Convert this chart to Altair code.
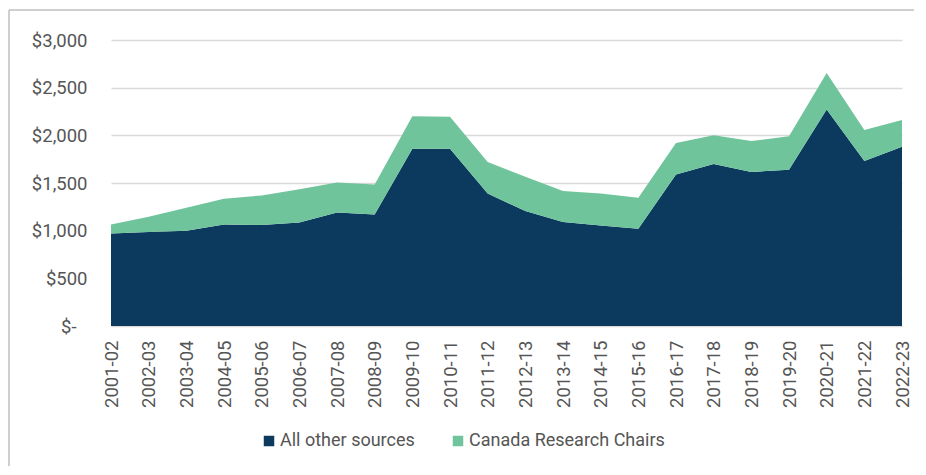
import altair as alt
import pandas as pd

years = ["2001-02", "2002-03", "2003-04", "2004-05", "2005-06", "2006-07", "2007-08",
         "2008-09", "2009-10", "2010-11", "2011-12", "2012-13", "2013-14", "2014-15",
         "2015-16", "2016-17", "2017-18", "2018-19", "2019-20", "2020-21", "2021-22",
         "2022-23"]
other_sources = [970, 985, 1000, 1065, 1060, 1085, 1190, 1170, 1860, 1860, 1390, 1205,
                 1090, 1055, 1020, 1590, 1700, 1615, 1640, 2270, 1730, 1880]
research_chairs = [95, 160, 240, 270, 310, 350, 315, 315, 340, 335, 330, 360,
                   325, 335, 325, 330, 300, 325, 350, 385, 325, 280]
series = ["All other sources", "Canada Research Chairs"]
colors = ["#0b3a5e", "#70c49b"]
y_ticks = [0, 500, 1000, 1500, 2000, 2500, 3000]

rows = []
for i, yr in enumerate(years):
    rows.append({"year": yr, "series": series[0], "value": other_sources[i], "ord": 0})
    rows.append({"year": yr, "series": series[1], "value": research_chairs[i], "ord": 1})
df = pd.DataFrame(rows)

FONT = "Roboto"
GRAY = "#555555"

area = alt.Chart(df).mark_area(opacity=1).encode(
    x=alt.X("year:O", sort=years, scale=alt.Scale(padding=0),
            axis=alt.Axis(title=None, labelAngle=270, ticks=False, domain=True,
                          domainColor="#d9d9d9", labelPadding=14, labelFontSize=18.5,
                          labelColor=GRAY, labelFont=FONT)),
    y=alt.Y("value:Q", stack="zero", scale=alt.Scale(domain=[0, 3000]),
            axis=alt.Axis(title=None, values=y_ticks, ticks=False, domain=False,
                          gridColor="#d9d9d9", gridWidth=1.5,
                          labelPadding={"condition": {"test": "datum.value == 0", "value": 35},
                                        "value": 24},
                          labelFontSize=18.5, labelColor=GRAY, labelFont=FONT,
                          labelExpr="datum.value == 0 ? '$-' : '$' + format(datum.value, ',')")),
    color=alt.Color("series:N", scale=alt.Scale(domain=series, range=colors),
                    legend=alt.Legend(title=None, orient="none", direction="horizontal",
                                      legendX=149, legendY=392, symbolType="square",
                                      symbolSize=110, symbolStrokeWidth=0,
                                      labelFontSize=18, labelColor=GRAY, labelFont=FONT,
                                      labelLimit=0, labelOffset=2, columnPadding=34)),
    order=alt.Order("ord:Q"),
)

frame_df = pd.DataFrame({"k": [0]})
top_rule = alt.Chart(frame_df).mark_rule(color="#bfbfbf", strokeWidth=1.5).encode(
    x=alt.value(-102), x2=alt.value(900), y=alt.value(-30))
left_rule = alt.Chart(frame_df).mark_rule(color="#bfbfbf", strokeWidth=1.5).encode(
    x=alt.value(-102), y=alt.value(-30), y2=alt.value(450))

chart = alt.layer(area, top_rule, left_rule).properties(
    width=791, height=286,
    autosize=alt.AutoSizeParams(type="none"),
    padding={"left": 103, "top": 32, "right": 12, "bottom": 140},
).configure_view(stroke=None)

chart.save("out.html", embed_options={"renderer": "svg", "actions": False})
